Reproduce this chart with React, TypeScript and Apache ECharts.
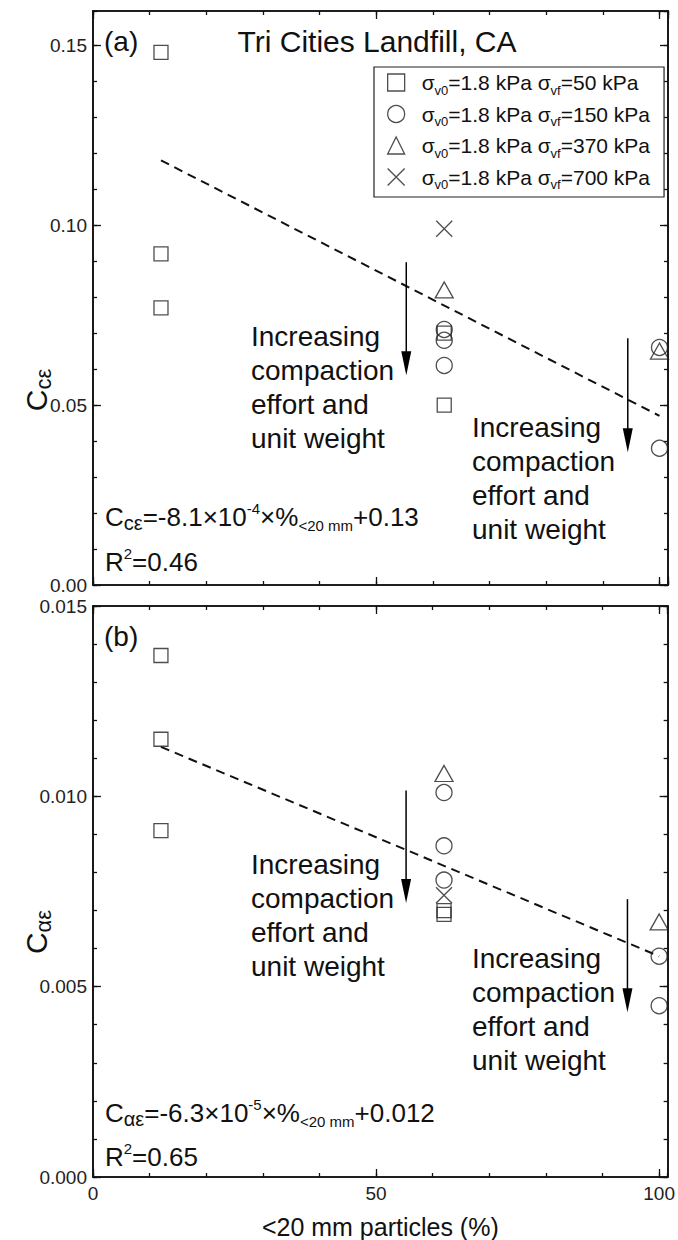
import React, { useEffect, useRef } from "react";
import * as echarts from "echarts";

const FONT = 'Arial, "Liberation Sans", Helvetica, sans-serif';
const INK = "#111";

// ---------- data ----------
const seriesNames = ["50", "150", "370", "700"];
const xLabelTicks = [0, 50, 100];

// (a) Cc_eps
const topSquareX = [12, 12, 12, 62, 62];
const topSquareY = [0.148, 0.092, 0.077, 0.07, 0.05];
const topCircleX = [62, 62, 62, 100, 100];
const topCircleY = [0.071, 0.068, 0.061, 0.066, 0.038];
const topTriangleX = [62, 100];
const topTriangleY = [0.082, 0.065];
const topCrossX = [62];
const topCrossY = [0.099];
const fitX = [12, 100];
const topFitY = [0.118, 0.047];

// (b) Ca_eps
const botSquareX = [12, 12, 12, 62, 62];
const botSquareY = [0.0137, 0.0115, 0.0091, 0.007, 0.0069];
const botCircleX = [62, 62, 62, 100, 100];
const botCircleY = [0.0101, 0.0087, 0.0078, 0.0058, 0.0045];
const botTriangleX = [62, 100];
const botTriangleY = [0.0106, 0.0067];
const botCrossX = [62];
const botCrossY = [0.0074];
const botFitY = [0.0113, 0.0058];

// annotation arrows (data coordinates)
const topArrowX = [55.3, 94.4];
const topArrowFrom = [0.0897, 0.0686];
const topArrowTo = [0.0583, 0.0369];
const botArrowX = [55.3, 94.4];
const botArrowFrom = [0.01015, 0.0073];
const botArrowTo = [0.0072, 0.00433];

// ---------- styles ----------
const CROSS = "path://M0,0L10,10M10,0L0,10";
const symbols = ["rect", "circle", "triangle", CROSS];
const symbolSizes: any[] = [14, 16, [18, 16], 16];

const zip = (xs: number[], ys: number[]) => xs.map((x, i) => [x, ys[i]]);

const axisLine = { show: true, onZero: false, lineStyle: { color: INK, width: 1.6 } };

function xAxes(g: number, showLabels: boolean) {
  const base = {
    gridIndex: g,
    type: "value",
    min: 0,
    max: 101.5,
    axisLine,
    splitLine: { show: false },
  };
  const res: any[] = [];
  for (const pos of ["bottom", "top"]) {
    res.push({
      ...base,
      position: pos,
      interval: 10,
      axisTick: { show: true, inside: true, length: 4, lineStyle: { color: INK, width: 1.3 } },
      axisLabel: { show: false },
    });
    const lab = showLabels && pos === "bottom";
    res.push({
      ...base,
      position: pos,
      interval: 50,
      axisTick: { show: true, inside: true, length: 8, lineStyle: { color: INK, width: 1.3 } },
      axisLabel: {
        show: lab,
        fontSize: 19,
        fontFamily: FONT,
        color: "#222",
        margin: 7,
        showMaxLabel: false,
        formatter: (v: number) => (xLabelTicks.includes(Math.round(v)) ? String(Math.round(v)) : ""),
      },
      name: lab ? "<20 mm particles (%)" : "",
      nameLocation: "middle",
      nameGap: 37,
      nameTextStyle: { fontSize: 25, fontFamily: FONT, color: INK },
    });
  }
  return res;
}

function yAxes(g: number, max: number, minor: number, major: number, digits: number, showMax: boolean) {
  const base = { gridIndex: g, type: "value", min: 0, max, axisLine, splitLine: { show: false } };
  const res: any[] = [];
  for (const pos of ["left", "right"]) {
    res.push({
      ...base,
      position: pos,
      interval: minor,
      axisTick: { show: true, inside: true, length: 4, lineStyle: { color: INK, width: 1.3 } },
      axisLabel: { show: false },
    });
    res.push({
      ...base,
      position: pos,
      interval: major,
      axisTick: { show: true, inside: true, length: 8, lineStyle: { color: INK, width: 1.3 } },
      axisLabel: {
        show: pos === "left",
        fontSize: 19,
        fontFamily: FONT,
        color: "#222",
        margin: 6,
        showMaxLabel: showMax,
        formatter: (v: number) => v.toFixed(digits),
      },
    });
  }
  return res;
}

function panelSeries(g: number, sets: number[][][], fit: number[][]) {
  const out: any[] = sets.map((d, i) => ({
    type: "scatter",
    name: seriesNames[i],
    xAxisIndex: g * 4,
    yAxisIndex: g * 4,
    data: d,
    symbol: symbols[i],
    symbolSize: symbolSizes[i],
    itemStyle: { color: "transparent", borderColor: "#222", borderWidth: 1.3 },
    z: 5,
  }));
  out.push({
    type: "line",
    name: "fit" + g,
    xAxisIndex: g * 4,
    yAxisIndex: g * 4,
    data: fit,
    symbol: "none",
    lineStyle: { color: INK, width: 2, type: [9, 6] },
    z: 3,
  });
  return out;
}

const annText = "Increasing\ncompaction\neffort and\nunit weight";

function textEl(x: number, y: number, text: string, extra: any = {}) {
  return {
    type: "text",
    x,
    y,
    z: 20,
    style: { text, fontFamily: FONT, fill: INK, fontSize: 28, ...extra },
  };
}

const eqRich = {
  t: { fontSize: 26, fontFamily: FONT, color: INK, lineHeight: 32 },
  C: { fontSize: 26, fontFamily: FONT, color: INK, lineHeight: 32 },
  s: { fontSize: 20, fontFamily: FONT, color: INK, lineHeight: 24, verticalAlign: "bottom" },
  sup: { fontSize: 15, fontFamily: FONT, color: INK, lineHeight: 14, verticalAlign: "top" },
  sub: { fontSize: 15, fontFamily: FONT, color: INK, lineHeight: 13, verticalAlign: "bottom" },
};

const yTitleRich = {
  C: { fontSize: 30, fontFamily: FONT, color: INK, lineHeight: 36 },
  s: { fontSize: 22, fontFamily: FONT, color: INK, lineHeight: 28, verticalAlign: "bottom" },
};

export default function App() {
  const ref = useRef<HTMLDivElement>(null);
  useEffect(() => {
    document.body.style.margin = "0";
    const chart = echarts.init(ref.current!, null, { renderer: "svg" });
    const option: any = {
      animation: false,
      backgroundColor: "#fff",
      textStyle: { fontFamily: FONT },
      grid: [
        { left: 93, top: 11, width: 575, height: 574 },
        { left: 93, top: 606, width: 575, height: 575 },
      ],
      xAxis: [...xAxes(0, false), ...xAxes(1, true)],
      yAxis: [...yAxes(0, 0.1595, 0.01, 0.05, 2, false), ...yAxes(1, 0.015, 0.001, 0.005, 3, true)],
      legend: {
        data: seriesNames.map((n, i) => ({ name: n, icon: symbols[i] })),
        orient: "vertical",
        left: 374,
        top: 67,
        padding: [5, 14, 6, 13],
        itemGap: 7,
        itemWidth: 17,
        itemHeight: 17,
        borderColor: "#222",
        borderWidth: 1.2,
        selectedMode: false,
        itemStyle: { color: "transparent", borderColor: "#222", borderWidth: 1.3 },
        textStyle: {
          fontFamily: FONT,
          fontSize: 21,
          color: INK,
          rich: {
            sp: { width: 12 },
            t: { fontSize: 21, fontFamily: FONT, color: INK, lineHeight: 28 },
            sub: { fontSize: 13, fontFamily: FONT, color: INK, lineHeight: 12, verticalAlign: "bottom" },
          },
        },
        formatter: (name: string) =>
          `{sp| }{t|σ}{sub|v0}{t|=1.8 kPa σ}{sub|vf}{t|=${name} kPa}`,
      },
      series: [
        ...panelSeries(
          0,
          [zip(topSquareX, topSquareY), zip(topCircleX, topCircleY), zip(topTriangleX, topTriangleY), zip(topCrossX, topCrossY)],
          zip(fitX, topFitY)
        ),
        ...panelSeries(
          1,
          [zip(botSquareX, botSquareY), zip(botCircleX, botCircleY), zip(botTriangleX, botTriangleY), zip(botCrossX, botCrossY)],
          zip(fitX, botFitY)
        ),
      ],
    };
    chart.setOption(option);

    const arrows: any[] = [];
    const addArrows = (g: number, xs: number[], from: number[], to: number[]) => {
      xs.forEach((x, i) => {
        const p0 = chart.convertToPixel({ gridIndex: g } as any, [x, from[i]]) as number[];
        const p1 = chart.convertToPixel({ gridIndex: g } as any, [x, to[i]]) as number[];
        arrows.push({
          type: "line",
          z: 20,
          shape: { x1: p0[0], y1: p0[1], x2: p1[0], y2: p1[1] - 10 },
          style: { stroke: "#000", lineWidth: 1.5 },
        });
        arrows.push({
          type: "polygon",
          z: 20,
          shape: { points: [[p1[0], p1[1]], [p1[0] - 5, p1[1] - 24], [p1[0] + 5, p1[1] - 24]] },
          style: { fill: "#000" },
        });
      });
    };
    addArrows(0, topArrowX, topArrowFrom, topArrowTo);
    addArrows(1, botArrowX, botArrowFrom, botArrowTo);

    const graphic: any[] = [
      textEl(377, 41, "Tri Cities Landfill, CA", { fontSize: 30, align: "center", verticalAlign: "middle" }),
      textEl(104, 41, "(a)", { fontSize: 28, align: "left", verticalAlign: "middle" }),
      textEl(104, 636, "(b)", { fontSize: 28, align: "left", verticalAlign: "middle" }),
      textEl(251, 319, annText, { lineHeight: 34, align: "left", verticalAlign: "top" }),
      textEl(472, 410, annText, { lineHeight: 34, align: "left", verticalAlign: "top" }),
      textEl(251, 847, annText, { lineHeight: 34, align: "left", verticalAlign: "top" }),
      textEl(472, 941, annText, { lineHeight: 34, align: "left", verticalAlign: "top" }),
      textEl(105, 517, "{C|C}{s|cε}{t|=-8.1×10}{sup|-4}{t|×%}{sub|<20 mm}{t|+0.13}", {
        rich: eqRich, align: "left", verticalAlign: "middle",
      }),
      textEl(105, 562, "{t|R}{sup|2}{t|=0.46}", { rich: eqRich, align: "left", verticalAlign: "middle" }),
      textEl(105, 1113, "{C|C}{s|αε}{t|=-6.3×10}{sup|-5}{t|×%}{sub|<20 mm}{t|+0.012}", {
        rich: eqRich, align: "left", verticalAlign: "middle",
      }),
      textEl(105, 1157, "{t|R}{sup|2}{t|=0.65}", { rich: eqRich, align: "left", verticalAlign: "middle" }),
      {
        type: "text", x: 36, y: 390, rotation: Math.PI / 2, z: 20,
        style: { text: "{C|C}{s|cε}", rich: yTitleRich, align: "center", verticalAlign: "middle", fill: INK },
      },
      {
        type: "text", x: 36, y: 932, rotation: Math.PI / 2, z: 20,
        style: { text: "{C|C}{s|αε}", rich: yTitleRich, align: "center", verticalAlign: "middle", fill: INK },
      },
      ...arrows,
    ];
    chart.setOption({ graphic });
    return () => chart.dispose();
  }, []);
  return <div ref={ref} style={{ width: 678, height: 1240 }} />;
}
